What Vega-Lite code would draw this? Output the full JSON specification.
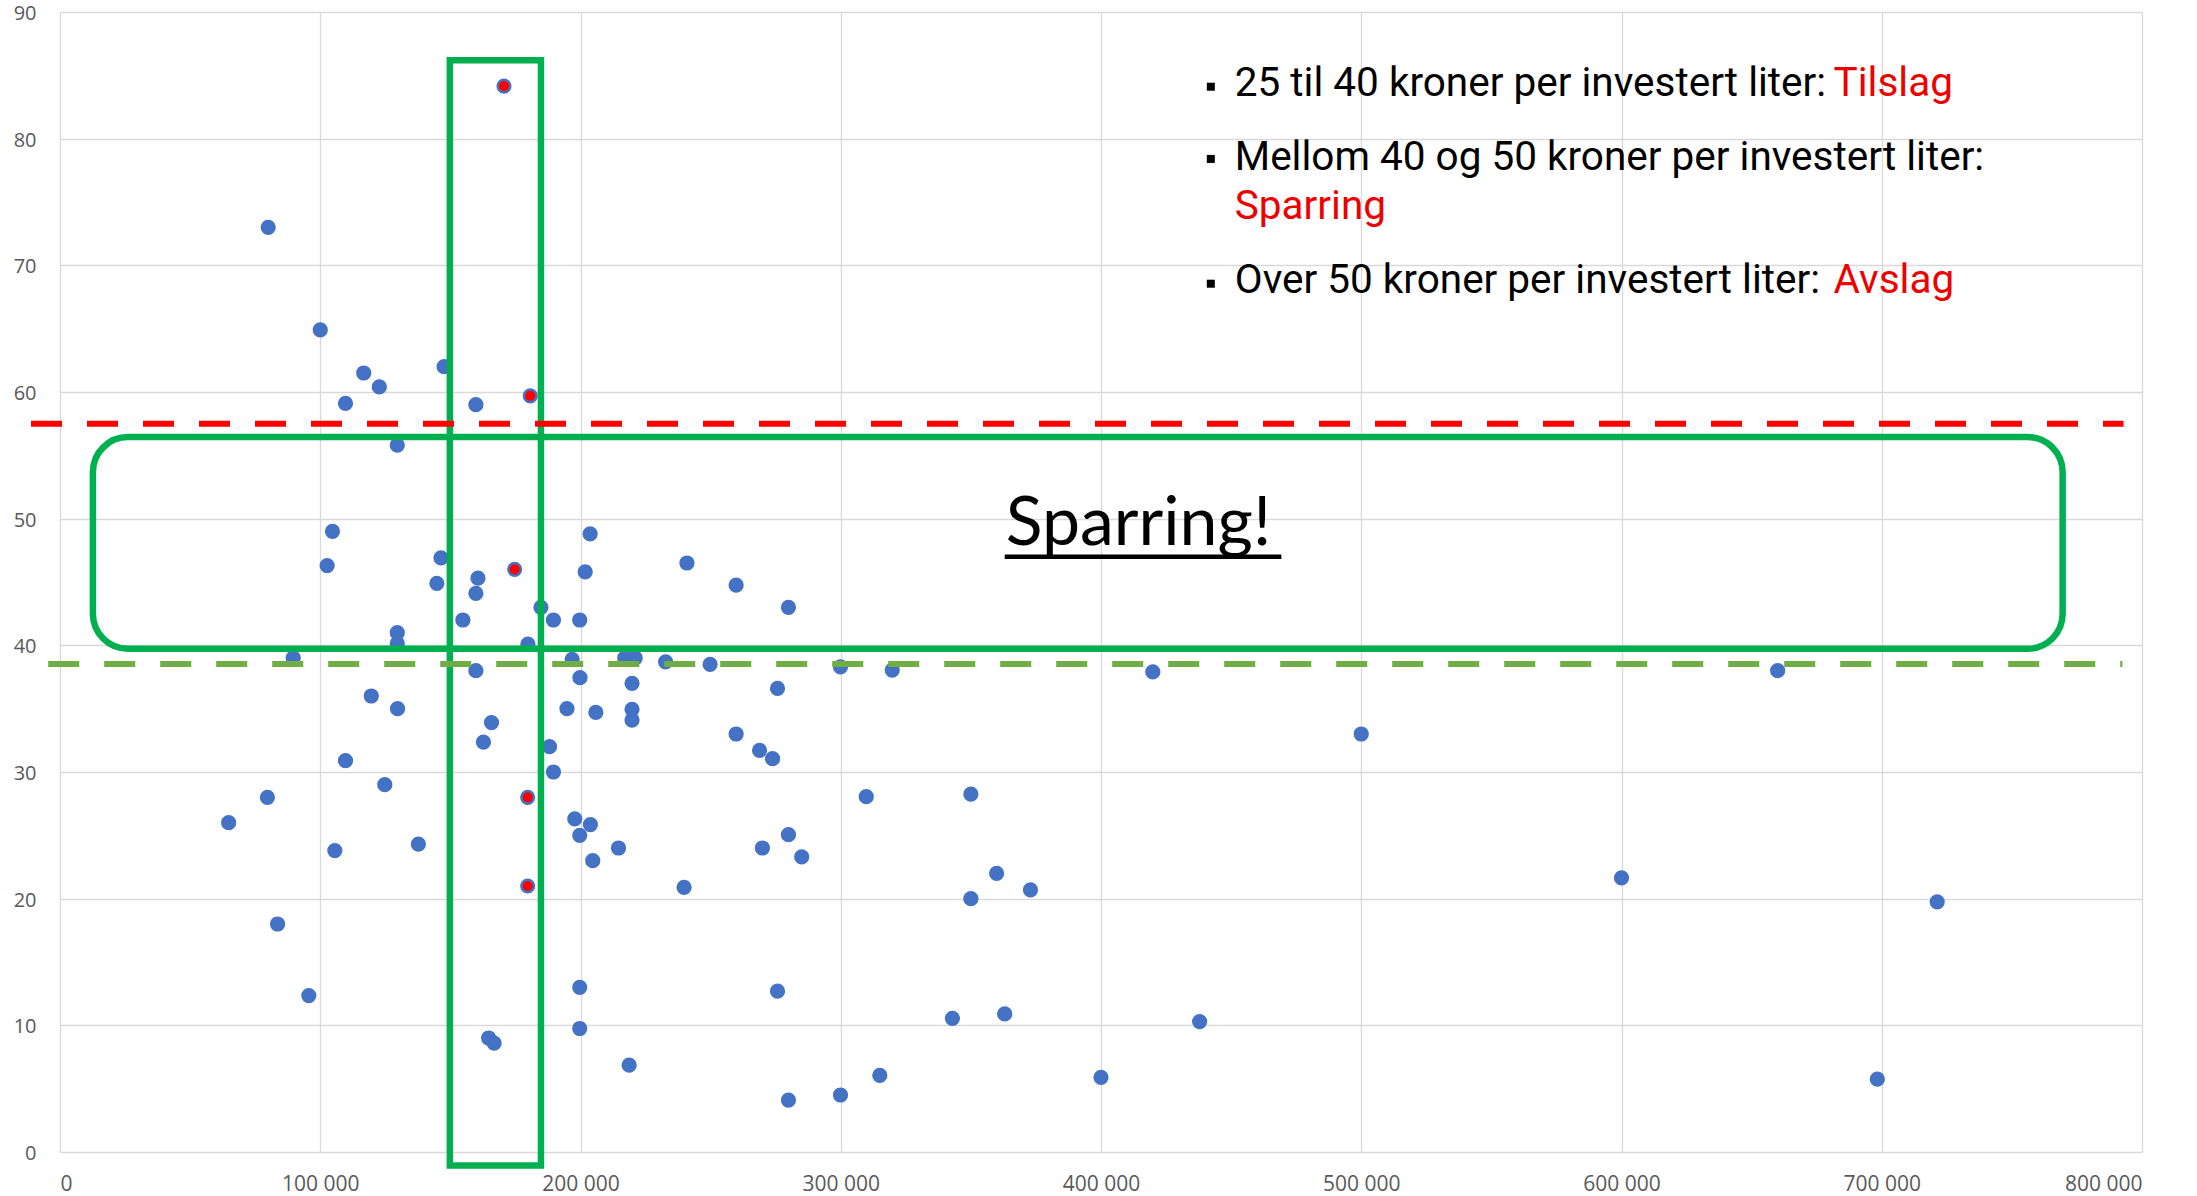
{
  "$schema": "https://vega.github.io/schema/vega-lite/v6.json",
  "width": 2082,
  "height": 1140,
  "autosize": {"type": "none"},
  "padding": {"left": 60, "top": 12, "right": 55, "bottom": 44},
  "background": "white",
  "config": {
    "view": {"stroke": null},
    "axis": {
      "grid": true,
      "gridColor": "#D9D9D9",
      "gridWidth": 1.3,
      "domain": false,
      "ticks": false,
      "tickSize": 0,
      "labelFont": "Open Sans",
      "labelColor": "#595959",
      "title": null
    }
  },
  "datasets": {
    "punkter": [
      {"x": 80000, "y": 73.0, "gruppe": "vanlig"},
      {"x": 100000, "y": 64.9, "gruppe": "vanlig"},
      {"x": 147600, "y": 62.0, "gruppe": "vanlig"},
      {"x": 116700, "y": 61.5, "gruppe": "vanlig"},
      {"x": 122700, "y": 60.4, "gruppe": "vanlig"},
      {"x": 109700, "y": 59.1, "gruppe": "vanlig"},
      {"x": 159800, "y": 59.0, "gruppe": "vanlig"},
      {"x": 129600, "y": 55.8, "gruppe": "vanlig"},
      {"x": 104700, "y": 49.0, "gruppe": "vanlig"},
      {"x": 203700, "y": 48.8, "gruppe": "vanlig"},
      {"x": 102650, "y": 46.3, "gruppe": "vanlig"},
      {"x": 146400, "y": 46.9, "gruppe": "vanlig"},
      {"x": 201800, "y": 45.8, "gruppe": "vanlig"},
      {"x": 240900, "y": 46.5, "gruppe": "vanlig"},
      {"x": 144800, "y": 44.9, "gruppe": "vanlig"},
      {"x": 160600, "y": 45.3, "gruppe": "vanlig"},
      {"x": 159800, "y": 44.1, "gruppe": "vanlig"},
      {"x": 184800, "y": 43.0, "gruppe": "vanlig"},
      {"x": 154800, "y": 42.0, "gruppe": "vanlig"},
      {"x": 189600, "y": 42.0, "gruppe": "vanlig"},
      {"x": 199700, "y": 42.0, "gruppe": "vanlig"},
      {"x": 129600, "y": 41.0, "gruppe": "vanlig"},
      {"x": 129600, "y": 40.15, "gruppe": "vanlig"},
      {"x": 179800, "y": 40.1, "gruppe": "vanlig"},
      {"x": 89600, "y": 39.0, "gruppe": "vanlig"},
      {"x": 196800, "y": 38.9, "gruppe": "vanlig"},
      {"x": 217000, "y": 39.0, "gruppe": "vanlig"},
      {"x": 221000, "y": 39.0, "gruppe": "vanlig"},
      {"x": 232700, "y": 38.7, "gruppe": "vanlig"},
      {"x": 159800, "y": 38.0, "gruppe": "vanlig"},
      {"x": 199800, "y": 37.45, "gruppe": "vanlig"},
      {"x": 219800, "y": 37.0, "gruppe": "vanlig"},
      {"x": 119600, "y": 36.0, "gruppe": "vanlig"},
      {"x": 129700, "y": 35.0, "gruppe": "vanlig"},
      {"x": 194800, "y": 35.0, "gruppe": "vanlig"},
      {"x": 205900, "y": 34.7, "gruppe": "vanlig"},
      {"x": 219800, "y": 34.95, "gruppe": "vanlig"},
      {"x": 219800, "y": 34.1, "gruppe": "vanlig"},
      {"x": 165800, "y": 33.9, "gruppe": "vanlig"},
      {"x": 162700, "y": 32.35, "gruppe": "vanlig"},
      {"x": 188100, "y": 32.0, "gruppe": "vanlig"},
      {"x": 109700, "y": 30.9, "gruppe": "vanlig"},
      {"x": 189600, "y": 30.0, "gruppe": "vanlig"},
      {"x": 124800, "y": 29.0, "gruppe": "vanlig"},
      {"x": 79700, "y": 28.0, "gruppe": "vanlig"},
      {"x": 64800, "y": 26.0, "gruppe": "vanlig"},
      {"x": 197800, "y": 26.3, "gruppe": "vanlig"},
      {"x": 203800, "y": 25.85, "gruppe": "vanlig"},
      {"x": 199700, "y": 25.0, "gruppe": "vanlig"},
      {"x": 214600, "y": 24.0, "gruppe": "vanlig"},
      {"x": 105600, "y": 23.8, "gruppe": "vanlig"},
      {"x": 137700, "y": 24.3, "gruppe": "vanlig"},
      {"x": 204700, "y": 23.0, "gruppe": "vanlig"},
      {"x": 239800, "y": 20.9, "gruppe": "vanlig"},
      {"x": 83600, "y": 18.0, "gruppe": "vanlig"},
      {"x": 95600, "y": 12.35, "gruppe": "vanlig"},
      {"x": 199700, "y": 13.0, "gruppe": "vanlig"},
      {"x": 199700, "y": 9.75, "gruppe": "vanlig"},
      {"x": 164700, "y": 9.0, "gruppe": "vanlig"},
      {"x": 166800, "y": 8.6, "gruppe": "vanlig"},
      {"x": 218700, "y": 6.85, "gruppe": "vanlig"},
      {"x": 259800, "y": 44.75, "gruppe": "vanlig"},
      {"x": 279900, "y": 43.0, "gruppe": "vanlig"},
      {"x": 249800, "y": 38.5, "gruppe": "vanlig"},
      {"x": 299900, "y": 38.3, "gruppe": "vanlig"},
      {"x": 319800, "y": 38.05, "gruppe": "vanlig"},
      {"x": 419900, "y": 37.9, "gruppe": "vanlig"},
      {"x": 275700, "y": 36.6, "gruppe": "vanlig"},
      {"x": 259800, "y": 33.0, "gruppe": "vanlig"},
      {"x": 268800, "y": 31.7, "gruppe": "vanlig"},
      {"x": 273800, "y": 31.05, "gruppe": "vanlig"},
      {"x": 309800, "y": 28.05, "gruppe": "vanlig"},
      {"x": 350000, "y": 28.25, "gruppe": "vanlig"},
      {"x": 269900, "y": 24.0, "gruppe": "vanlig"},
      {"x": 279900, "y": 25.05, "gruppe": "vanlig"},
      {"x": 285000, "y": 23.3, "gruppe": "vanlig"},
      {"x": 359900, "y": 22.0, "gruppe": "vanlig"},
      {"x": 350000, "y": 20.0, "gruppe": "vanlig"},
      {"x": 372900, "y": 20.7, "gruppe": "vanlig"},
      {"x": 275700, "y": 12.7, "gruppe": "vanlig"},
      {"x": 342900, "y": 10.55, "gruppe": "vanlig"},
      {"x": 363000, "y": 10.9, "gruppe": "vanlig"},
      {"x": 437900, "y": 10.3, "gruppe": "vanlig"},
      {"x": 315000, "y": 6.05, "gruppe": "vanlig"},
      {"x": 299900, "y": 4.5, "gruppe": "vanlig"},
      {"x": 279900, "y": 4.1, "gruppe": "vanlig"},
      {"x": 400000, "y": 5.9, "gruppe": "vanlig"},
      {"x": 660000, "y": 38.0, "gruppe": "vanlig"},
      {"x": 500000, "y": 33.0, "gruppe": "vanlig"},
      {"x": 600000, "y": 21.65, "gruppe": "vanlig"},
      {"x": 721300, "y": 19.75, "gruppe": "vanlig"},
      {"x": 698300, "y": 5.75, "gruppe": "vanlig"},
      {"x": 170600, "y": 84.15, "gruppe": "markert"},
      {"x": 180700, "y": 59.7, "gruppe": "markert"},
      {"x": 174700, "y": 46.0, "gruppe": "markert"},
      {"x": 179700, "y": 28.0, "gruppe": "markert"},
      {"x": 179700, "y": 21.0, "gruppe": "markert"}
    ],
    "bokser": [
      {"x": 12640, "x2": 769500, "y": 56.44, "y2": 39.73, "boks": "sparring"},
      {"x": 149800, "x2": 184800, "y": 86.2, "y2": -1.07, "boks": "utvalg"}
    ],
    "grenser": [
      {"x": -11140, "x2": 792900, "y": 57.5, "linje": "avslag"},
      {"x": -4530, "x2": 792500, "y": 38.53, "linje": "tilslag"}
    ],
    "merknad": [
      {"x": 363400, "y": 47.9, "tekst": "Sparring!"}
    ],
    "understrek": [
      {"x": 363000, "x2": 469300, "y": 47.0}
    ],
    "punktliste": [
      {"x": 451400, "y": 83.37, "tekst": "25 til 40 kroner per investert liter:", "farge": "svart"},
      {"x": 681500, "y": 83.37, "tekst": "Tilslag", "farge": "rød"},
      {"x": 451400, "y": 77.53, "tekst": "Mellom 40 og 50 kroner per investert liter:", "farge": "svart"},
      {"x": 451400, "y": 73.62, "tekst": "Sparring", "farge": "rød"},
      {"x": 451400, "y": 67.81, "tekst": "Over 50 kroner per investert liter:", "farge": "svart"},
      {"x": 681500, "y": 67.81, "tekst": "Avslag", "farge": "rød"}
    ],
    "kuler": [
      {"x": 442200, "y": 84.1},
      {"x": 442200, "y": 78.4},
      {"x": 442200, "y": 68.55}
    ]
  },
  "encoding": {
    "x": {
      "field": "x",
      "type": "quantitative",
      "scale": {"domain": [0, 800000], "nice": false, "zero": false},
      "axis": {
        "values": [0, 100000, 200000, 300000, 400000, 500000, 600000, 700000, 800000],
        "labelExpr": "replace(format(datum.value, ',d'), ',', ' ')",
        "labelFontSize": 21,
        "labelPadding": 21
      }
    },
    "y": {
      "field": "y",
      "type": "quantitative",
      "scale": {"domain": [0, 90], "nice": false, "zero": false},
      "axis": {
        "values": [0, 10, 20, 30, 40, 50, 60, 70, 80, 90],
        "labelFontSize": 20,
        "labelPadding": 24,
        "labelOffset": 1.5
      }
    }
  },
  "layer": [
    {
      "data": {"name": "punkter"},
      "transform": [{"filter": "datum.gruppe === 'vanlig'"}],
      "mark": {"type": "point", "shape": "circle", "filled": true, "size": 170, "fill": "#4472C4", "stroke": "#4472C4", "strokeWidth": 2.2, "opacity": 1}
    },
    {
      "data": {"name": "punkter"},
      "transform": [{"filter": "datum.gruppe === 'markert'"}],
      "mark": {"type": "point", "shape": "circle", "filled": true, "size": 160, "fill": "#FF0000", "stroke": "#4472C4", "strokeWidth": 2.5, "opacity": 1}
    },
    {
      "data": {"name": "bokser"},
      "transform": [{"filter": "datum.boks === 'utvalg'"}],
      "mark": {"type": "rect", "filled": false, "stroke": "#00B050", "strokeWidth": 6.5},
      "encoding": {"x2": {"field": "x2"}, "y2": {"field": "y2"}}
    },
    {
      "data": {"name": "bokser"},
      "transform": [{"filter": "datum.boks === 'sparring'"}],
      "mark": {"type": "rect", "filled": false, "stroke": "#00B050", "strokeWidth": 6.5, "cornerRadius": 35},
      "encoding": {"x2": {"field": "x2"}, "y2": {"field": "y2"}}
    },
    {
      "data": {"name": "grenser"},
      "transform": [{"filter": "datum.linje === 'avslag'"}],
      "mark": {"type": "rule", "strokeWidth": 6, "strokeDash": [31, 25], "color": "#FF0000"},
      "encoding": {"x2": {"field": "x2"}}
    },
    {
      "data": {"name": "grenser"},
      "transform": [{"filter": "datum.linje === 'tilslag'"}],
      "mark": {"type": "rule", "strokeWidth": 6, "strokeDash": [31, 25], "color": "#70AD47"},
      "encoding": {"x2": {"field": "x2"}}
    },
    {
      "data": {"name": "merknad"},
      "mark": {"type": "text", "font": "Lato", "fontSize": 68, "align": "left", "baseline": "alphabetic", "color": "#000000"},
      "encoding": {"text": {"field": "tekst"}}
    },
    {
      "data": {"name": "understrek"},
      "mark": {"type": "rule", "strokeWidth": 4.5, "color": "#000000"},
      "encoding": {"x2": {"field": "x2"}}
    },
    {
      "data": {"name": "punktliste"},
      "transform": [{"filter": "datum.farge === 'svart'"}],
      "mark": {"type": "text", "font": "Roboto", "fontSize": 40.5, "align": "left", "baseline": "alphabetic", "color": "#000000"},
      "encoding": {"text": {"field": "tekst"}}
    },
    {
      "data": {"name": "punktliste"},
      "transform": [{"filter": "datum.farge === 'rød'"}],
      "mark": {"type": "text", "font": "Roboto", "fontSize": 40.5, "align": "left", "baseline": "alphabetic", "color": "#EE0000"},
      "encoding": {"text": {"field": "tekst"}}
    },
    {
      "data": {"name": "kuler"},
      "mark": {"type": "point", "shape": "square", "filled": true, "size": 64, "color": "#000000", "opacity": 1}
    }
  ]
}
